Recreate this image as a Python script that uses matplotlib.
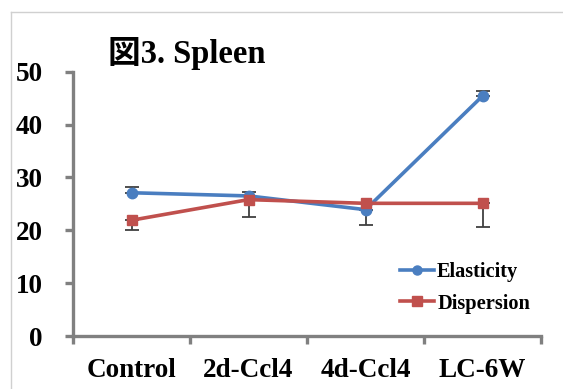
import matplotlib
matplotlib.use("Agg")
import matplotlib.pyplot as plt
from matplotlib.lines import Line2D
import numpy as np

categories = ["Control", "2d-Ccl4", "4d-Ccl4", "LC-6W"]
elasticity = [27.1, 26.5, 23.9, 45.4]
elasticity_err_up = [1.1, 0.8, 0.0, 0.9]
elasticity_err_down = [0.0, 0.0, 2.9, 0.0]
dispersion = [21.9, 25.8, 25.1, 25.1]
dispersion_err_down = [1.9, 3.2, 0.0, 4.4]
yticks = [0, 10, 20, 30, 40, 50]

W, H = 563, 389
fig = plt.figure(figsize=(W/100, H/100), dpi=100)
ax = fig.add_axes([73/W, 1-336/H, (541-73)/W, (336-71.7)/H])

blue = "#4A7EC0"
red = "#C0504D"
x = np.arange(len(categories))

ax.errorbar(x, elasticity, yerr=[elasticity_err_down, elasticity_err_up], fmt='none',
            ecolor="#404040", elinewidth=1.3, capsize=5, capthick=1.3, zorder=2)
ax.errorbar(x, dispersion, yerr=[dispersion_err_down, [0]*4], fmt='none',
            ecolor="#404040", elinewidth=1.3, capsize=5, capthick=1.3, zorder=2)
ax.plot(x, elasticity, color=blue, lw=2.6, marker='o', ms=7.5, zorder=3)
ax.plot(x, dispersion, color=red, lw=2.6, marker='s', ms=7.5, zorder=4)

ax.set_xlim(-0.5, 3.5)
ax.set_ylim(0, 50)
ax.set_yticks(yticks)
ax.set_xticks(x)
ax.set_xticks(np.arange(-0.5, 4.0, 1.0), minor=True)
ax.set_xticklabels(categories)
ax.set_yticklabels([str(v) for v in yticks])

for s in ["top", "right"]:
    ax.spines[s].set_visible(False)
for s in ["left", "bottom"]:
    ax.spines[s].set_color("#808080")
    ax.spines[s].set_linewidth(2.4)
ax.tick_params(axis='y', direction='out', length=6, width=2.4, color="#808080", pad=16)
ax.tick_params(axis='x', which='major', length=0, pad=16)
ax.tick_params(axis='x', which='minor', direction='out', length=6, width=2.4, color="#808080")

serif = ['Liberation Serif', 'Noto Sans CJK JP']
for lab in ax.get_xticklabels() + ax.get_yticklabels():
    lab.set_fontfamily(serif)
    lab.set_fontweight('bold')
    lab.set_fontsize(19.5)

fig.text(108/W, 1-53/H, "図3. Spleen", family=serif, fontweight='bold', fontsize=23.5,
         ha='left', va='center')

handles = [Line2D([], [], color=blue, lw=2.6, marker='o', ms=6.5),
           Line2D([], [], color=red, lw=2.6, marker='s', ms=6.5)]
leg = fig.legend(handles, ["Elasticity", "Dispersion"], loc='upper left',
                 bbox_to_anchor=(382/W, 1-244/H), frameon=False,
                 prop={'family': 'Liberation Serif', 'weight': 'bold', 'size': 14.7},
                 handlelength=1.65, handletextpad=0.15, labelspacing=0.55)

fig.add_artist(Line2D([11/W, 11/W], [0, 1-12/H], transform=fig.transFigure, color="#d0d0d0", lw=1))
fig.add_artist(Line2D([11/W, 1], [1-12/H, 1-12/H], transform=fig.transFigure, color="#d0d0d0", lw=1))

fig.savefig("out.png", dpi=100)
